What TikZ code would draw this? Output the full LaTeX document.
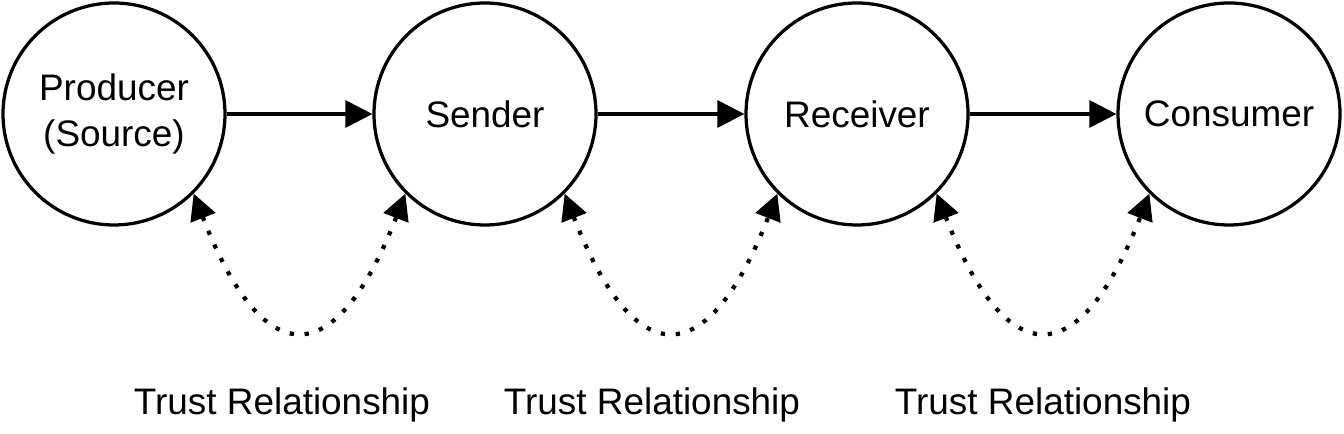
\documentclass[tikz,border=0pt]{standalone}
\usepackage{fontspec}
\setmainfont{Liberation Sans}
\usetikzlibrary{arrows.meta}

\begin{document}
\begin{tikzpicture}[x=0.2mm, y=0.2mm,
		party/.style={draw, circle, line width=0.65mm, minimum size=44.4mm, inner sep=0pt, align=center,
			font=\fontsize{21}{26.5}\selectfont},
		flow/.style={line width=0.65mm, -{Triangle[length=5.4mm, width=5.4mm]}},
		trust/.style={line width=0.85mm, dash pattern=on 0.85mm off 2.15mm,
			{Triangle[length=5.2mm, width=5.2mm]}-{Triangle[length=5.2mm, width=5.2mm]}},
		tlabel/.style={font=\fontsize{21}{25}\selectfont}]
			%%%%% START %%%%%
			
			\useasboundingbox (0, 0) rectangle (1344, 434);
			
			\node[party] (prod) at (114, 320) {Producer\\(Source)};
			\node[party] (send) at (485, 320) {Sender};
			\node[party] (recv) at (857, 320) {Receiver};
			\node[party] (cons) at (1229, 320) {Consumer};
			
			\draw[flow] (prod) -- (send);
			\draw[flow] (send) -- (recv);
			\draw[flow] (recv) -- (cons);
			
			\draw[trust] (prod.-45) .. controls +(70, -180) and +(-70, -180) .. (send.-135);
			\draw[trust] (send.-45) .. controls +(70, -180) and +(-70, -180) .. (recv.-135);
			\draw[trust] (recv.-45) .. controls +(70, -180) and +(-70, -180) .. (cons.-135);
			
			\node[tlabel] (tr1) at (282, 29) {Trust Relationship};
			\node[tlabel] (tr2) at (652, 29) {Trust Relationship};
			\node[tlabel] (tr3) at (1043, 29) {Trust Relationship};
			
			%%%%% END %%%%%
		\end{tikzpicture}
\end{document}
